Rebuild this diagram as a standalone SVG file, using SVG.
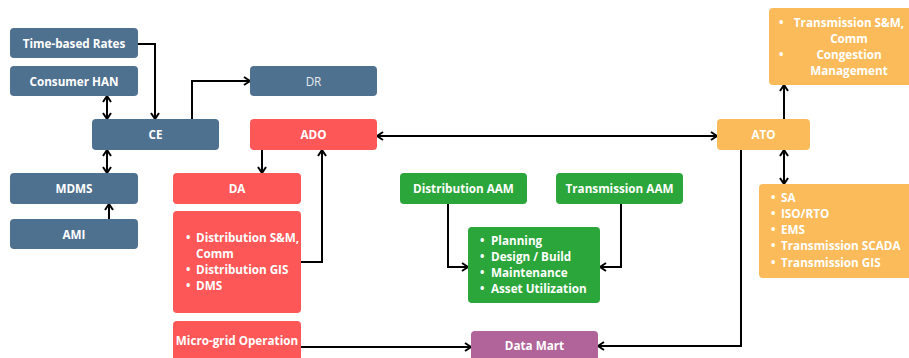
<svg xmlns="http://www.w3.org/2000/svg" width="909" height="358" viewBox="0 0 909 358">
  <style>
    .blue { fill: #4f7190; }
    .red { fill: #fe5757; }
    .green { fill: #2ba63a; }
    .orange { fill: #fbbb5a; }
    .purple { fill: #b0649a; }
    text { font-family: "Open Sans", "Liberation Sans", sans-serif; font-size: 11.7px; font-weight: 700; fill: #ffffff; }
    .c { text-anchor: middle; }
    .light { font-weight: 400; fill: #e4e9ee; }
    .wire { fill: none; stroke: #000000; stroke-width: 2; }
  </style>
  <defs>
    <marker id="chev" viewBox="0 0 10 10" refX="9" refY="5" markerWidth="10" markerHeight="10" markerUnits="userSpaceOnUse" orient="auto-start-reverse">
      <path d="M3,1 L9,5 L3,9" fill="none" stroke="#000000" stroke-width="2"/>
    </marker>
  </defs>
  <rect width="909" height="358" fill="#ffffff"/>

  <!-- connectors -->
  <g id="connectors">
    <path class="wire" d="M138,44 H155 V119" marker-end="url(#chev)"/>
    <path class="wire" d="M107,96 V119" marker-start="url(#chev)" marker-end="url(#chev)"/>
    <path class="wire" d="M192,119 V81 H250" marker-end="url(#chev)"/>
    <path class="wire" d="M107,150 V173" marker-start="url(#chev)" marker-end="url(#chev)"/>
    <path class="wire" d="M109,219 V204" marker-end="url(#chev)"/>
    <path class="wire" d="M262,150 V173" marker-end="url(#chev)"/>
    <path class="wire" d="M301,262 H322 V150" marker-end="url(#chev)"/>
    <path class="wire" d="M377,136 H717" marker-start="url(#chev)" marker-end="url(#chev)"/>
    <path class="wire" d="M784,119 V85" marker-end="url(#chev)"/>
    <path class="wire" d="M784,150 V184" marker-start="url(#chev)" marker-end="url(#chev)"/>
    <path class="wire" d="M741,150 V346 H598" marker-end="url(#chev)"/>
    <path class="wire" d="M301,347 H471" marker-end="url(#chev)"/>
    <path class="wire" d="M448,204 V267 H468" marker-end="url(#chev)"/>
    <path class="wire" d="M621,204 V267 H600" marker-end="url(#chev)"/>
  </g>

  <g id="time-based-rates">
    <rect class="blue" x="10" y="28" width="128" height="30" rx="4"/>
    <text class="c" x="74" y="47.5">Time-based Rates</text>
  </g>
  <g id="consumer-han">
    <rect class="blue" x="10" y="66" width="128" height="30" rx="4"/>
    <text class="c" x="74" y="85.5">Consumer HAN</text>
  </g>
  <g id="dr">
    <rect class="blue" x="250" y="66" width="127" height="30" rx="4"/>
    <text class="c light" x="313.5" y="85.5">DR</text>
  </g>
  <g id="ce">
    <rect class="blue" x="92" y="119" width="127" height="31" rx="4"/>
    <text class="c" x="155.5" y="139">CE</text>
  </g>
  <g id="ado">
    <rect class="red" x="250" y="119" width="127" height="31" rx="4"/>
    <text class="c" x="313.5" y="139">ADO</text>
  </g>
  <g id="mdms">
    <rect class="blue" x="10" y="173" width="128" height="31" rx="4"/>
    <text class="c" x="74" y="193">MDMS</text>
  </g>
  <g id="ami">
    <rect class="blue" x="10" y="219" width="128" height="30" rx="4"/>
    <text class="c" x="74" y="238.5">AMI</text>
  </g>
  <g id="da">
    <rect class="red" x="173" y="173" width="128" height="31" rx="4"/>
    <text class="c" x="237" y="193">DA</text>
  </g>
  <g id="da-systems">
    <rect class="red" x="173" y="211" width="128" height="102" rx="4"/>
    <text x="186" y="242">•</text><text x="196" y="242">Distribution S&amp;M,</text>
    <text x="196" y="258">Comm</text>
    <text x="186" y="273.5">•</text><text x="196" y="273.5">Distribution GIS</text>
    <text x="186" y="290">•</text><text x="196" y="290">DMS</text>
  </g>
  <g id="micro-grid">
    <rect class="red" x="173" y="321" width="128" height="45" rx="4"/>
    <text class="c" x="237" y="345">Micro-grid Operation</text>
  </g>
  <g id="distribution-aam">
    <rect class="green" x="400" y="173" width="127" height="31" rx="4"/>
    <text class="c" x="463.5" y="193">Distribution AAM</text>
  </g>
  <g id="transmission-aam">
    <rect class="green" x="556" y="173" width="127" height="31" rx="4"/>
    <text class="c" x="619.5" y="193">Transmission AAM</text>
  </g>
  <g id="asset-activities">
    <rect class="green" x="468" y="227" width="132" height="76" rx="4"/>
    <text x="480" y="245">•</text><text x="491" y="245">Planning</text>
    <text x="480" y="261">•</text><text x="491" y="261">Design / Build</text>
    <text x="480" y="277">•</text><text x="491" y="277">Maintenance</text>
    <text x="480" y="293">•</text><text x="491" y="293">Asset Utilization</text>
  </g>
  <g id="data-mart">
    <rect class="purple" x="471" y="331" width="127" height="35" rx="4"/>
    <text class="c" x="534.5" y="350">Data Mart</text>
  </g>
  <g id="ato">
    <rect class="orange" x="717" y="119" width="93" height="31" rx="4"/>
    <text class="c" x="763.5" y="139">ATO</text>
  </g>
  <g id="transmission-ops">
    <rect class="orange" x="769" y="8" width="145" height="77" rx="4"/>
    <text x="779" y="27">•</text><text class="c" x="849" y="27">Transmission S&amp;M,</text>
    <text class="c" x="849" y="43">Comm</text>
    <text x="779" y="59">•</text><text class="c" x="849" y="59">Congestion</text>
    <text class="c" x="849" y="75">Management</text>
  </g>
  <g id="transmission-systems">
    <rect class="orange" x="759" y="184" width="155" height="94" rx="4"/>
    <text x="771" y="202">•</text><text x="781" y="202">SA</text>
    <text x="771" y="218">•</text><text x="781" y="218">ISO/RTO</text>
    <text x="771" y="234">•</text><text x="781" y="234">EMS</text>
    <text x="771" y="250">•</text><text x="781" y="250">Transmission SCADA</text>
    <text x="771" y="267">•</text><text x="781" y="267">Transmission GIS</text>
  </g>
</svg>
